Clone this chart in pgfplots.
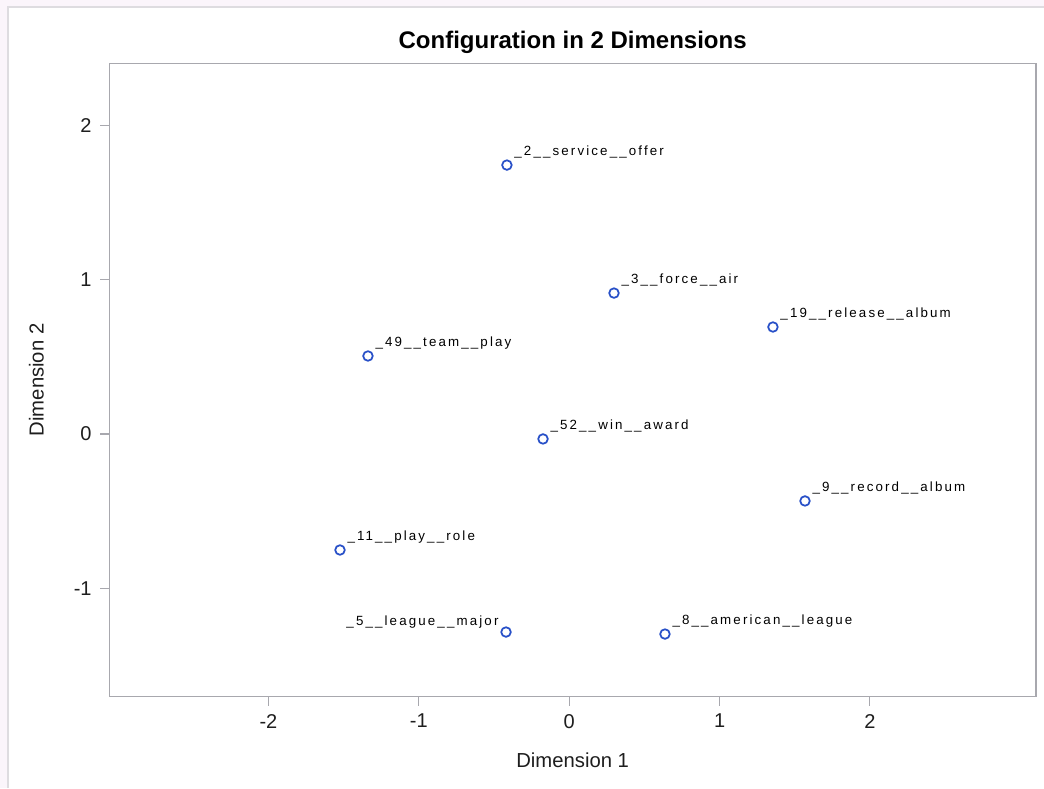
\documentclass[border=0pt]{standalone}
\usepackage{pgfplots}
\pgfplotsset{compat=1.18}
\usepackage{fontspec}
\setmainfont{Liberation Sans}
\newfontfamily\lblfont[LetterSpace=16]{Liberation Sans}
\definecolor{pinkbg}{RGB}{251,245,251}
\definecolor{bordergray}{RGB}{222,220,224}
\definecolor{framegray}{RGB}{168,168,174}
\definecolor{markblue}{RGB}{40,80,200}
\definecolor{txt}{RGB}{30,30,30}
\begin{document}
\begin{tikzpicture}
\fill[pinkbg] (0pt,0pt) rectangle (783pt,591pt);
\fill[white] (6pt,0pt) rectangle (783pt,585.75pt);
\draw[bordergray, line width=1.5pt] (6pt,0pt) -- (6pt,585.75pt) -- (783pt,585.75pt);
\begin{axis}[
  at={(81.975pt,68.625pt)}, anchor=south west,
  width=695pt, height=474.9pt, scale only axis,
  xmin=-3.058, xmax=3.104, ymin=-1.702, ymax=2.404,
  xtick={-2,-1,0,1,2}, ytick={-1,0,1,2},
  axis line style={framegray, line width=1.1pt},
  tick style={framegray, line width=0.8pt},
  tick align=outside, major tick length=6.75pt,
  xtick pos=bottom, ytick pos=left,
  ticklabel style={font=\fontsize{15}{18}\selectfont, text=txt},
  xticklabel style={yshift=-3pt},
  yticklabel style={xshift=-3pt},
  /pgf/number format/assume math mode=true,
  title={\bfseries Configuration in 2 Dimensions},
  title style={font=\fontsize{18}{22}\selectfont, at={(axis description cs:0.5,1.021)}, anchor=center, text=black},
  xlabel={Dimension 1}, ylabel={Dimension 2},
  label style={font=\fontsize{15.2}{18}\selectfont, text=txt},
  xlabel style={at={(axis description cs:0.5,-0.101)}, anchor=center},
  ylabel style={at={(axis description cs:-0.0788,0.5)}, anchor=center},
  clip=false,
]
\addplot[only marks, mark=o, mark size=3.6pt, mark options={markblue, line width=1.3pt},
  point meta=explicit symbolic,
  nodes near coords, nodes near coords style={anchor=base west, inner sep=0pt, xshift=5pt, yshift=7.2pt, font=\lblfont\fontsize{10}{12}\selectfont, text=black}]
coordinates {
(-0.414,1.744) [\_2\_\_service\_\_offer]
(0.298,0.914) [\_3\_\_force\_\_air]
(1.355,0.694) [\_19\_\_release\_\_album]
(-1.338,0.506) [\_49\_\_team\_\_play]
(-0.174,-0.032) [\_52\_\_win\_\_award]
(1.568,-0.434) [\_9\_\_record\_\_album]
(-1.524,-0.752) [\_11\_\_play\_\_role]
(0.637,-1.297) [\_8\_\_american\_\_league]
};
\addplot[only marks, mark=o, mark size=3.6pt, mark options={markblue, line width=1.3pt},
  point meta=explicit symbolic,
  nodes near coords, nodes near coords style={anchor=base east, inner sep=0pt, xshift=-5pt, yshift=5pt, font=\lblfont\fontsize{10}{12}\selectfont, text=black}]
coordinates {
(-0.420,-1.284) [\_5\_\_league\_\_major]
};
\end{axis}
\pgfresetboundingbox
\useasboundingbox (0pt,0pt) rectangle (783pt,591pt);
\end{tikzpicture}
\end{document}
